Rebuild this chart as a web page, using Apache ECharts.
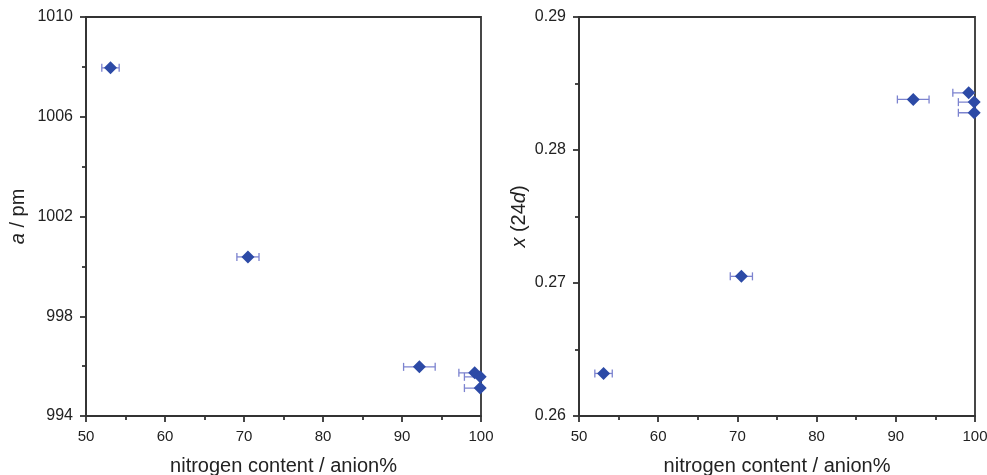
<!DOCTYPE html>
<html>
<head>
<meta charset="utf-8">
<script src="https://cdn.jsdelivr.net/npm/echarts@6/dist/echarts.min.js"></script>
<style>
  html, body { margin: 0; padding: 0; background: #fff; }
  #chart { width: 987px; height: 475px; }
</style>
</head>
<body>
<div id="chart"></div>
<script>
// Nitrogen content of the anion sublattice (anion%) with its uncertainty
const nitrogenContent = [53.1, 70.5, 92.2, 99.2, 99.9, 99.9];
const nitrogenError = [1.1, 1.4, 2.0, 2.0, 2.0, 2.0];
// Lattice parameter a (pm)
const latticeA = [1007.96, 1000.38, 995.97, 995.73, 995.57, 995.12];
// Positional parameter x of the 24d site
const positionX24d = [0.2632, 0.2705, 0.2838, 0.2843, 0.2836, 0.2828];

const xTicks = { min: 50, max: 100, interval: 10 };
const yTicksLeft = { min: 994, max: 1010, interval: 4 };
const yTicksRight = { min: 0.26, max: 0.29, interval: 0.01 };

const markerColor = '#2c4aa6';
const errorColor = '#7c83cf';
const axisColor = '#333333';
const textColor = '#222222';
const fontFamily = 'Liberation Sans, Arial, sans-serif';

function pointsFor(values) {
  return nitrogenContent.map((x, i) => [x, values[i]]);
}
function errorRows(values) {
  return nitrogenContent.map((x, i) => [x - nitrogenError[i], x + nitrogenError[i], values[i]]);
}

// Horizontal error bar with end caps
function renderErrorBar(params, api) {
  const lo = api.coord([api.value(0), api.value(2)]);
  const hi = api.coord([api.value(1), api.value(2)]);
  const cap = 4;
  const style = { stroke: errorColor, lineWidth: 1.3, fill: null };
  return {
    type: 'group',
    children: [
      { type: 'line', shape: { x1: lo[0], y1: lo[1], x2: hi[0], y2: hi[1] }, style },
      { type: 'line', shape: { x1: lo[0], y1: lo[1] - cap, x2: lo[0], y2: lo[1] + cap }, style },
      { type: 'line', shape: { x1: hi[0], y1: hi[1] - cap, x2: hi[0], y2: hi[1] + cap }, style }
    ]
  };
}

function xAxisFor(gridIndex) {
  return {
    type: 'value', gridIndex,
    min: xTicks.min, max: xTicks.max, interval: xTicks.interval,
    name: 'nitrogen content / anion%', nameLocation: 'middle', nameGap: 40,
    nameTextStyle: { fontSize: 20, color: textColor, fontFamily },
    axisLine: { show: true, onZero: false, lineStyle: { color: axisColor, width: 1.8 } },
    axisTick: { show: true, inside: false, length: 6, lineStyle: { color: axisColor, width: 1.8 } },
    minorTick: { show: true, splitNumber: 2, length: 4, lineStyle: { color: axisColor, width: 1.8 } },
    axisLabel: { fontSize: 15, color: textColor, fontFamily, margin: 13 },
    splitLine: { show: false }
  };
}

function yAxisFor(gridIndex, ticks, nameRich, decimals, nameGap) {
  return {
    type: 'value', gridIndex,
    min: ticks.min, max: ticks.max, interval: ticks.interval,
    name: nameRich.text, nameLocation: 'middle', nameGap, nameRotate: 90,
    nameTextStyle: { fontSize: 20, color: textColor, fontFamily, rich: nameRich.rich },
    axisLine: { show: true, onZero: false, lineStyle: { color: axisColor, width: 1.8 } },
    axisTick: { show: true, inside: false, length: 6, lineStyle: { color: axisColor, width: 1.8 } },
    minorTick: { show: true, splitNumber: 2, length: 4, lineStyle: { color: axisColor, width: 1.8 } },
    axisLabel: {
      fontSize: 16, color: textColor, fontFamily, margin: 13,
      formatter: v => decimals ? v.toFixed(decimals) : String(Math.round(v))
    },
    splitLine: { show: false }
  };
}

const italic = { fontStyle: 'italic', fontSize: 20, color: textColor, fontFamily };
const upright = { fontSize: 20, color: textColor, fontFamily };

const gridBase = { top: 17, bottom: 59, show: true, borderColor: axisColor, borderWidth: 1.8,
  containLabel: false, outerBoundsMode: 'none' };

const chart = echarts.init(document.getElementById('chart'), null, { renderer: 'canvas' });
chart.setOption({
  animation: false,
  backgroundColor: '#ffffff',
  grid: [
    Object.assign({ left: 86, right: 506 }, gridBase),
    Object.assign({ left: 579, right: 12 }, gridBase)
  ],
  xAxis: [xAxisFor(0), xAxisFor(1)],
  yAxis: [
    yAxisFor(0, yTicksLeft, { text: '{i|a}{n| / pm}', rich: { i: italic, n: upright } }, 0, 58),
    yAxisFor(1, yTicksRight, { text: '{i|x}{n| (24}{i|d}{n|)}', rich: { i: italic, n: upright } }, 2, 50)
  ],
  series: [
    {
      type: 'custom', xAxisIndex: 0, yAxisIndex: 0, clip: true,
      renderItem: renderErrorBar, data: errorRows(latticeA), z: 2
    },
    {
      type: 'scatter', xAxisIndex: 0, yAxisIndex: 0,
      symbol: 'diamond', symbolSize: [13, 13],
      itemStyle: { color: markerColor, opacity: 1 }, data: pointsFor(latticeA), z: 3
    },
    {
      type: 'custom', xAxisIndex: 1, yAxisIndex: 1, clip: true,
      renderItem: renderErrorBar, data: errorRows(positionX24d), z: 2
    },
    {
      type: 'scatter', xAxisIndex: 1, yAxisIndex: 1,
      symbol: 'diamond', symbolSize: [13, 13],
      itemStyle: { color: markerColor, opacity: 1 }, data: pointsFor(positionX24d), z: 3
    }
  ]
});
</script>
</body>
</html>
